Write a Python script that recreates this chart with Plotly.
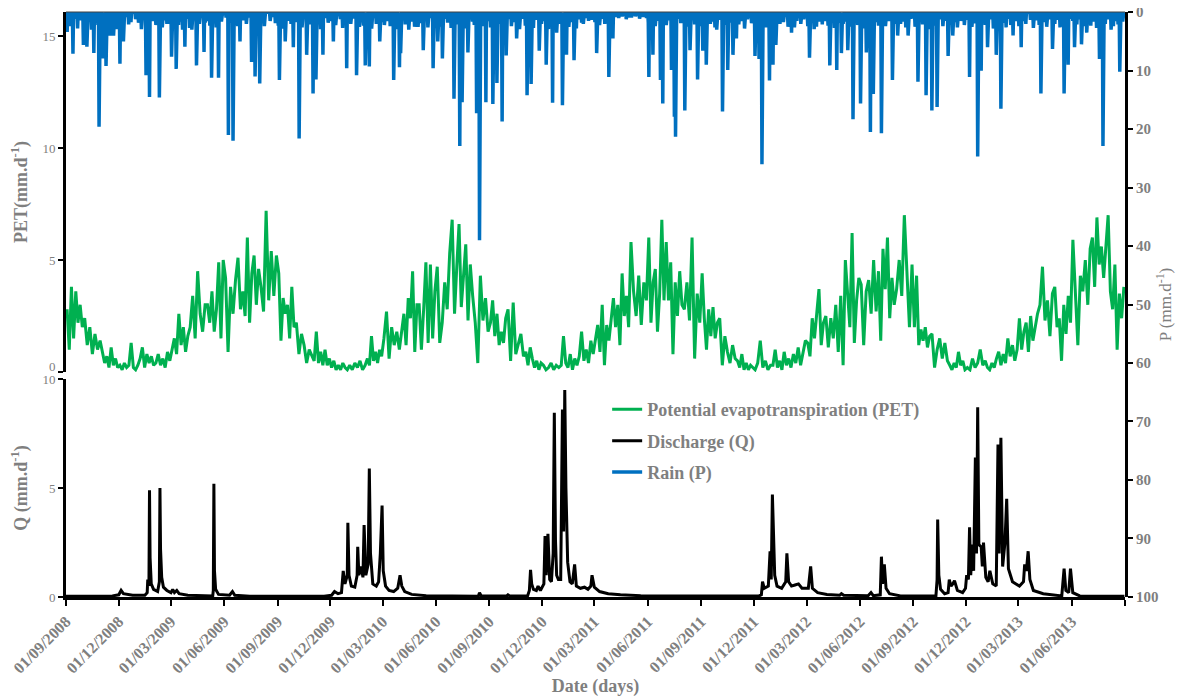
import pandas as pd
import plotly.graph_objects as go

# ---------------- PET (mm/d): readings within each month, in order ----------------
pet_2008 = [  # Sep..Dec 2008
    [2.8, 1.0, 3.8, 1.5, 3.6, 2.2, 3.0, 2.0],
    [2.4, 1.2, 2.0, 0.8, 1.7, 1.0, 1.4],
    [0.9, 0.4, 0.7, 0.2, 1.1, 0.3, 0.6, 0.2],
    [0.3, 0.1, 0.4, 0.2, 0.3, 1.3, 0.2, 0.1],
]
pet_2009 = [
    [0.3, 0.6, 1.1, 0.2, 0.8, 0.4, 0.7, 0.3],
    [0.4, 0.8, 0.3, 0.6, 0.2, 0.9, 0.5],
    [1.0, 1.5, 0.8, 2.6, 1.2, 2.0, 0.9, 1.6],
    [2.0, 3.4, 1.5, 4.5, 2.6, 1.8, 3.0],
    [3.0, 2.2, 3.6, 1.8, 2.8, 4.9, 1.5, 5.0],
    [4.2, 0.9, 3.8, 2.6, 4.1, 5.1, 2.8],
    [3.6, 2.5, 6.0, 2.2, 4.4, 5.2, 3.0, 4.6],
    [3.8, 2.7, 7.2, 3.2, 5.4, 3.4, 5.2],
    [4.4, 1.4, 3.3, 2.6, 3.0, 1.5, 3.8, 2.0],
    [2.2, 0.8, 1.7, 1.2, 0.4, 1.0, 0.7],
    [0.5, 1.8, 0.4, 0.9, 0.3, 1.0, 0.3, 0.6],
    [0.2, 0.5, 0.1, 0.3, 0.1, 0.4, 0.2, 0.1],
]
pet_2010 = [
    [0.3, 0.1, 0.4, 0.2, 0.5, 0.1, 0.3],
    [0.6, 0.3, 1.6, 0.5, 0.9, 0.4, 1.0, 0.7],
    [1.5, 2.7, 0.6, 2.0, 1.2, 1.8, 1.0],
    [1.8, 2.6, 1.2, 3.3, 2.4, 4.5, 0.9, 3.0],
    [3.0, 1.0, 2.8, 4.9, 1.3, 4.8, 1.5, 3.6],
    [4.7, 1.3, 2.2, 4.0, 2.8, 5.3, 6.8],
    [2.6, 4.7, 6.6, 2.9, 4.3, 5.7, 2.3, 4.8],
    [3.4, 2.2, 0.4, 4.3, 2.3, 3.3, 1.8],
    [2.2, 3.2, 1.6, 2.6, 1.2, 1.8, 1.3, 2.4],
    [2.8, 0.5, 3.1, 0.8, 1.2, 1.7, 0.7],
    [0.9, 0.3, 1.1, 0.6, 0.2, 0.5, 0.1, 0.4],
    [0.3, 0.1, 0.2, 0.4, 0.1, 0.3, 0.2],
]
pet_2011 = [
    [0.3, 1.6, 0.4, 0.2, 0.8, 0.1, 0.6, 0.3],
    [0.7, 1.8, 0.5, 1.0, 0.4, 1.4, 0.8],
    [1.5, 2.1, 0.9, 3.0, 0.3, 2.1, 1.4, 2.5],
    [3.3, 2.0, 3.0, 1.2, 4.4, 2.5, 3.4, 2.0],
    [5.8, 3.6, 2.5, 4.3, 2.1, 4.0, 3.2],
    [6.0, 2.2, 4.0, 4.6, 1.8, 3.5, 6.8, 3.2],
    [5.8, 3.2, 4.9, 0.8, 4.0, 2.5, 4.5, 3.0],
    [2.8, 4.0, 2.3, 6.0, 0.6, 3.5, 2.2],
    [4.4, 2.4, 1.0, 2.8, 1.6, 2.9, 1.5, 2.2],
    [2.4, 0.3, 1.6, 0.9, 0.4, 1.2, 0.6],
    [0.5, 0.2, 0.8, 0.1, 0.4, 0.1, 0.3, 0.2],
    [0.1, 0.4, 1.4, 0.2, 0.5, 0.1, 0.3],
]
pet_2012 = [
    [0.3, 1.0, 0.2, 0.5, 0.1, 0.9, 0.3, 0.6],
    [0.2, 0.8, 0.4, 1.1, 0.3, 0.9, 1.4],
    [1.3, 0.7, 2.4, 1.5, 2.6, 3.7, 1.2, 2.2],
    [2.5, 1.1, 2.4, 1.5, 3.0, 0.9, 3.4],
    [0.3, 5.0, 3.6, 2.0, 6.2, 1.3, 3.2, 4.2],
    [3.9, 1.2, 3.6, 4.1, 2.6, 5.0, 2.7],
    [4.5, 1.4, 5.5, 3.7, 6.0, 2.4, 4.2, 3.0],
    [3.7, 5.0, 3.4, 7.0, 4.5, 2.0, 4.8],
    [2.0, 4.3, 1.2, 1.9, 1.4, 2.0, 1.1, 1.6],
    [1.7, 0.2, 1.0, 1.5, 0.6, 1.3, 0.5],
    [0.3, 0.1, 0.4, 0.2, 0.9, 0.3, 0.5, 0.1],
    [0.2, 0.1, 0.6, 0.2, 0.4, 1.0, 0.3],
]
pet_2013 = [  # Jan..Aug 2013
    [0.5, 0.2, 0.1, 0.4, 0.2, 0.6, 0.9, 0.3],
    [0.8, 0.4, 1.5, 0.7, 1.2, 0.5, 1.0],
    [2.4, 1.0, 1.8, 2.2, 0.9, 2.5, 1.4, 2.0],
    [2.6, 3.0, 4.7, 2.3, 3.2, 1.6, 3.5],
    [3.8, 2.0, 2.4, 0.5, 3.0, 1.7, 3.4, 2.2],
    [5.9, 3.6, 1.2, 4.3, 3.6, 5.0, 3.0],
    [5.5, 6.0, 3.8, 6.9, 4.8, 5.6, 4.2, 5.4],
    [7.0, 3.6, 2.8, 4.8, 1.0, 3.5, 2.4, 3.8],
]
pet_first_months = ["2008-09", "2009-01", "2010-01", "2011-01", "2012-01", "2013-01"]

# ---------------- Discharge Q (mm/d) ----------------
q_dates = [
    "2008-09-01", "2008-11-20", "2008-12-01", "2008-12-05", "2008-12-09", "2008-12-25",
    "2009-01-15", "2009-01-19", "2009-01-20", "2009-01-22", "2009-01-23", "2009-01-24",
    "2009-01-26", "2009-01-30", "2009-02-06", "2009-02-09", "2009-02-10", "2009-02-11",
    "2009-02-13", "2009-02-16", "2009-02-22", "2009-03-01", "2009-03-04", "2009-03-07",
    "2009-03-11", "2009-03-15", "2009-03-30", "2009-04-25", "2009-05-12", "2009-05-13",
    "2009-05-14", "2009-05-15", "2009-05-17", "2009-05-22", "2009-06-10", "2009-06-15",
    "2009-06-19", "2009-07-15", "2009-11-20", "2009-12-03", "2009-12-08", "2009-12-14",
    "2009-12-20", "2009-12-23", "2009-12-26", "2009-12-30", "2009-12-31", "2010-01-02",
    "2010-01-06", "2010-01-12", "2010-01-16", "2010-01-17", "2010-01-19", "2010-01-23",
    "2010-01-26", "2010-01-28", "2010-01-31", "2010-02-04", "2010-02-06", "2010-02-08",
    "2010-02-12", "2010-02-18", "2010-02-22", "2010-02-25", "2010-02-28", "2010-03-02",
    "2010-03-06", "2010-03-12", "2010-03-20", "2010-03-27", "2010-03-31", "2010-04-03",
    "2010-04-08", "2010-04-20", "2010-05-15", "2010-08-13", "2010-08-15", "2010-08-18",
    "2010-10-01", "2010-10-03", "2010-10-06", "2010-11-06", "2010-11-09", "2010-11-11",
    "2010-11-13", "2010-11-16", "2010-11-21", "2010-11-24", "2010-11-28", "2010-12-04",
    "2010-12-06", "2010-12-08", "2010-12-11", "2010-12-14", "2010-12-17", "2010-12-20",
    "2010-12-22", "2010-12-24", "2010-12-26", "2010-12-29", "2011-01-02", "2011-01-05",
    "2011-01-07", "2011-01-09", "2011-01-11", "2011-01-14", "2011-01-18", "2011-01-22",
    "2011-01-26", "2011-01-29", "2011-02-05", "2011-02-12", "2011-02-18", "2011-02-23",
    "2011-02-25", "2011-03-01", "2011-03-10", "2011-03-25", "2011-04-15", "2011-05-20",
    "2011-09-01", "2011-12-10", "2011-12-14", "2011-12-16", "2011-12-19", "2011-12-26",
    "2011-12-29", "2011-12-31", "2012-01-02", "2012-01-04", "2012-01-06", "2012-01-10",
    "2012-01-18", "2012-01-25", "2012-01-27", "2012-01-30", "2012-02-04", "2012-02-10",
    "2012-02-16", "2012-02-22", "2012-03-04", "2012-03-08", "2012-03-11", "2012-03-20",
    "2012-04-05", "2012-04-27", "2012-04-30", "2012-05-04", "2012-06-15", "2012-06-20",
    "2012-06-24", "2012-07-06", "2012-07-08", "2012-07-10", "2012-07-13", "2012-07-16",
    "2012-07-22", "2012-08-10", "2012-10-10", "2012-10-12", "2012-10-13", "2012-10-15",
    "2012-10-18", "2012-10-25", "2012-10-31", "2012-11-02", "2012-11-05", "2012-11-08",
    "2012-11-11", "2012-11-16", "2012-11-25", "2012-11-30", "2012-12-02", "2012-12-05",
    "2012-12-07", "2012-12-09", "2012-12-12", "2012-12-14", "2012-12-17", "2012-12-19",
    "2012-12-21", "2012-12-23", "2012-12-27", "2012-12-29", "2012-12-31", "2013-01-04",
    "2013-01-08", "2013-01-11", "2013-01-16", "2013-01-22", "2013-01-25", "2013-01-27",
    "2013-01-30", "2013-02-02", "2013-02-06", "2013-02-09", "2013-02-12", "2013-02-19",
    "2013-03-03", "2013-03-10", "2013-03-12", "2013-03-15", "2013-03-18", "2013-03-21",
    "2013-03-27", "2013-04-13", "2013-04-25", "2013-05-15", "2013-05-19", "2013-05-22",
    "2013-05-27", "2013-05-30", "2013-06-03", "2013-06-15", "2013-08-31",
]
q_values = [
    0.04, 0.05, 0.10, 0.30, 0.15, 0.08,
    0.08, 0.20, 0.80, 0.50, 4.90, 1.80,
    0.60, 0.35, 0.25, 0.70, 5.00, 2.20,
    0.90, 0.45, 0.30, 0.20, 0.35, 0.20,
    0.30, 0.15, 0.08, 0.05, 0.05, 0.30,
    5.20, 1.20, 0.35, 0.12, 0.08, 0.25,
    0.08, 0.04, 0.04, 0.08, 0.25, 0.15,
    0.20, 1.20, 0.60, 1.00, 3.40, 1.00,
    0.50, 0.45, 1.00, 2.30, 1.00, 1.40,
    0.90, 3.30, 1.00, 1.50, 5.90, 2.00,
    0.60, 0.50, 0.70, 2.00, 4.20, 1.20,
    0.50, 0.30, 0.25, 0.40, 1.00, 0.50,
    0.25, 0.12, 0.06, 0.04, 0.20, 0.05,
    0.05, 0.10, 0.05, 0.06, 0.30, 1.25,
    0.60, 0.35, 0.30, 0.50, 0.30, 0.60,
    2.80, 1.00, 2.90, 0.80, 0.70, 2.00,
    8.45, 2.60, 1.00, 0.80, 0.80, 8.60,
    3.00, 9.50, 5.00, 1.60, 0.70, 0.60,
    1.50, 0.50, 0.40, 0.45, 0.35, 0.50,
    1.00, 0.45, 0.25, 0.15, 0.10, 0.06,
    0.04, 0.05, 0.10, 0.70, 0.40, 0.50,
    2.10, 0.80, 4.70, 3.00, 1.00, 0.50,
    0.40, 0.70, 2.00, 0.70, 0.50, 0.55,
    0.60, 0.40, 0.40, 1.40, 0.40, 0.20,
    0.12, 0.08, 0.15, 0.08, 0.06, 0.20,
    0.06, 0.10, 1.85, 0.60, 1.50, 0.40,
    0.15, 0.05, 0.05, 0.80, 3.55, 1.00,
    0.35, 0.15, 0.20, 0.80, 0.50, 0.60,
    0.75, 0.30, 0.20, 0.40, 1.00, 0.80,
    3.20, 1.00, 2.40, 1.20, 6.40, 2.00,
    8.70, 2.40, 2.30, 1.40, 2.50, 0.90,
    0.70, 1.20, 0.60, 0.50, 7.00, 2.00,
    7.30, 1.40, 2.50, 4.50, 1.30, 0.70,
    0.50, 0.70, 1.50, 1.20, 2.10, 0.80,
    0.30, 0.15, 0.10, 0.05, 1.30, 0.30,
    0.20, 1.30, 0.20, 0.05, 0.03,
]

# ---------------- Rain P (mm/d): larger events ----------------
rain_big_dates = [
    "2008-09-03", "2008-09-13", "2008-10-01", "2008-10-07", "2008-10-19", "2008-10-28",
    "2008-11-04", "2008-11-09", "2008-11-16", "2008-11-22", "2008-12-03", "2008-12-09",
    "2009-01-17", "2009-01-23", "2009-02-09", "2009-02-22", "2009-03-02", "2009-03-10",
    "2009-03-25", "2009-04-06", "2009-04-14", "2009-04-27", "2009-05-10", "2009-05-22",
    "2009-06-08", "2009-06-16", "2009-06-28", "2009-07-18", "2009-07-24", "2009-08-01",
    "2009-09-04", "2009-09-14", "2009-09-28", "2009-10-08", "2009-10-21", "2009-11-01",
    "2009-11-06", "2009-11-18", "2009-12-06", "2009-12-29", "2010-01-15", "2010-01-30",
    "2010-02-06", "2010-02-24", "2010-03-20", "2010-03-30", "2010-04-01", "2010-04-15",
    "2010-05-01", "2010-05-10", "2010-05-27", "2010-06-04", "2010-06-12", "2010-07-02",
    "2010-07-12", "2010-07-16", "2010-07-26", "2010-08-10", "2010-08-15", "2010-08-26",
    "2010-09-07", "2010-09-14", "2010-09-23", "2010-09-30", "2010-10-18", "2010-11-05",
    "2010-11-12", "2010-11-26", "2010-12-08", "2010-12-19", "2010-12-26", "2011-01-05",
    "2011-01-12", "2011-01-25", "2011-02-10", "2011-03-05", "2011-03-26", "2011-04-02",
    "2011-06-03", "2011-06-10", "2011-06-23", "2011-06-27", "2011-07-12", "2011-07-17",
    "2011-07-19", "2011-08-04", "2011-08-13", "2011-08-26", "2011-09-04", "2011-09-10",
    "2011-09-28", "2011-10-08", "2011-10-17", "2011-10-26", "2011-11-01", "2011-12-03",
    "2011-12-10", "2011-12-15", "2011-12-28", "2012-01-03", "2012-01-08", "2012-02-04",
    "2012-03-06", "2012-03-18", "2012-04-10", "2012-04-22", "2012-04-30", "2012-05-11",
    "2012-05-20", "2012-06-02", "2012-06-12", "2012-06-19", "2012-06-24", "2012-07-08",
    "2012-07-27", "2012-08-05", "2012-08-23", "2012-09-09", "2012-09-23", "2012-10-03",
    "2012-10-12", "2012-10-31", "2012-11-08", "2012-11-23", "2012-12-07", "2012-12-21",
    "2012-12-27", "2013-01-07", "2013-01-22", "2013-01-30", "2013-02-20", "2013-03-06",
    "2013-04-09", "2013-04-29", "2013-05-19", "2013-05-26", "2013-06-06", "2013-06-18",
    "2013-06-27", "2013-07-19", "2013-07-25", "2013-08-08", "2013-08-23",
]
rain_big_mm = [
    3.4, 7.1, 5.6, 5.9, 7.0, 19.6,
    7.9, 9.2, 4.0, 4.0, 8.8, 5.0,
    10.8, 14.5, 14.6, 2.0, 7.6, 9.7,
    5.9, 3.0, 9.1, 6.8, 11.2, 11.2,
    21.0, 22.0, 5.0, 8.5, 11.0, 12.2,
    11.6, 5.0, 6.0, 21.6, 7.3, 13.9,
    11.5, 7.3, 5.0, 9.6, 10.8, 9.1,
    9.3, 5.0, 11.6, 9.4, 7.0, 3.0,
    2.5, 6.5, 9.6, 5.0, 7.9, 14.8,
    22.9, 15.4, 6.9, 17.3, 39.0, 15.4,
    15.7, 12.1, 18.7, 7.4, 4.5, 14.2,
    12.3, 6.6, 9.0, 15.5, 3.5, 15.9,
    7.3, 8.2, 2.0, 7.0, 11.1, 4.5,
    11.1, 7.3, 11.6, 15.6, 9.9, 17.9,
    21.3, 16.8, 6.5, 11.5, 6.6, 9.0,
    3.0, 17.0, 9.9, 7.3, 4.5, 7.5,
    8.0, 26.0, 11.7, 9.0, 5.6, 3.5,
    7.8, 2.5, 9.1, 9.9, 7.0, 6.5,
    18.3, 15.6, 6.9, 20.5, 14.0, 20.7,
    11.6, 4.0, 4.0, 11.9, 14.2, 16.8,
    16.2, 7.5, 4.0, 1.5, 11.1, 24.7,
    10.0, 6.0, 7.3, 16.5, 4.0, 6.0,
    13.9, 6.3, 13.9, 9.0, 6.0, 5.5,
    3.5, 8.0, 22.9, 3.0, 10.2,
]

# ---------------- Rain P: small daily events, month by month (Sep 2008 .. Aug 2013) ----------------
rain_small_days = [
    [5, 9, 17, 21, 26], [3, 11, 15, 23, 26], [2, 7, 13, 19, 27], [5, 12, 18, 22, 30],
    [4, 9, 13, 21, 28], [3, 6, 14, 18, 26], [6, 14, 18, 21, 29], [2, 9, 19, 23, 29],
    [3, 7, 14, 18, 27], [4, 11, 20, 24, 30], [3, 9, 13, 21, 28], [5, 9, 19, 24, 28],
    [2, 8, 11, 18, 24], [3, 13, 16, 26, 30], [3, 10, 14, 22, 27], [2, 10, 18, 22, 25],
    [5, 9, 20, 24, 27], [2, 10, 14, 18, 27], [4, 9, 14, 24, 27], [5, 9, 20, 25, 28],
    [5, 14, 18, 22, 30], [2, 8, 17, 21, 27], [5, 8, 20, 22, 29], [3, 6, 19, 22, 30],
    [3, 11, 17, 19, 27], [4, 9, 13, 23, 28], [2, 9, 16, 20, 30], [3, 12, 15, 23, 30],
    [2, 8, 16, 20, 29], [4, 7, 15, 19, 24], [2, 10, 15, 19, 29], [6, 12, 18, 25, 29],
    [4, 11, 18, 24, 30], [2, 6, 14, 18, 30], [3, 7, 14, 24, 28], [2, 8, 17, 21, 30],
    [2, 14, 17, 22, 25], [3, 12, 21, 24, 30], [5, 10, 15, 20, 27], [6, 12, 19, 22, 30],
    [5, 12, 15, 21, 29], [2, 9, 13, 20, 25], [3, 10, 14, 24, 28], [3, 7, 15, 18, 27],
    [3, 7, 15, 24, 28], [5, 9, 15, 21, 29], [3, 12, 15, 21, 31], [2, 10, 15, 19, 28],
    [4, 13, 17, 20, 28], [6, 9, 17, 22, 26], [3, 12, 16, 20, 28], [3, 11, 14, 25, 30],
    [3, 12, 17, 20, 27], [4, 8, 13, 16, 25], [2, 10, 14, 22, 27], [3, 6, 14, 19, 24],
    [3, 8, 12, 22, 30], [3, 10, 13, 22, 30], [4, 9, 14, 21, 29], [3, 12, 16, 20, 28],
]
rain_small_mm = [
    [1.6, 2.4, 1.1, 2.8, 1.4], [2.0, 1.2, 3.0, 0.9, 2.2], [1.3, 2.6, 1.8, 1.0, 2.9], [2.5, 0.8, 2.1, 1.7, 1.2],
    [1.8, 2.9, 1.2, 2.2, 1.5], [2.2, 1.0, 2.6, 1.4, 2.0], [1.2, 2.2, 1.6, 3.0, 1.1], [2.7, 1.4, 2.0, 0.9, 1.8],
    [1.5, 2.3, 1.0, 2.6, 1.6], [0.9, 1.8, 1.3, 2.4, 1.0], [1.4, 2.0, 0.9, 1.6, 2.3], [1.1, 2.4, 1.5, 0.8, 1.9],
    [2.3, 1.2, 2.8, 1.5, 2.0], [1.7, 2.6, 1.1, 2.1, 1.4], [2.4, 1.3, 2.9, 1.0, 1.8], [1.5, 2.2, 1.2, 2.7, 1.6],
    [2.0, 1.1, 2.5, 1.6, 2.3], [1.4, 2.8, 1.0, 2.0, 1.7], [2.2, 1.5, 2.4, 1.2, 2.9], [1.0, 2.1, 1.6, 2.5, 1.3],
    [1.9, 1.2, 2.6, 1.0, 2.2], [1.3, 2.5, 1.1, 1.8, 2.7], [2.1, 1.4, 2.0, 2.8, 1.2], [1.6, 2.2, 1.0, 2.4, 1.5],
    [2.6, 1.1, 2.0, 1.5, 2.3], [1.2, 2.4, 1.7, 2.9, 1.1], [2.3, 1.6, 2.7, 1.3, 2.0], [1.5, 2.9, 1.2, 2.2, 1.8],
    [2.0, 1.3, 2.5, 1.7, 2.8], [1.2, 1.8, 1.0, 1.5, 1.3], [1.7, 2.2, 1.1, 2.0, 1.4], [0.8, 1.0, 0.7, 1.2, 0.9],
    [0.9, 0.7, 1.1, 0.8, 1.0], [1.8, 1.2, 2.4, 1.5, 2.0], [2.2, 1.4, 2.7, 1.1, 1.9], [1.6, 2.5, 1.3, 2.1, 1.4],
    [2.4, 1.1, 2.0, 1.6, 2.6], [1.3, 2.2, 1.8, 1.0, 2.5], [2.1, 1.5, 2.8, 1.2, 1.9], [1.6, 2.4, 1.1, 2.6, 1.3],
    [2.2, 1.4, 2.0, 1.7, 2.5], [1.1, 2.6, 1.5, 2.0, 1.2], [2.4, 1.3, 2.9, 1.6, 2.1], [1.5, 2.3, 1.0, 2.7, 1.8],
    [2.0, 1.6, 2.5, 1.2, 2.2], [1.4, 2.8, 1.3, 2.1, 1.7], [2.3, 1.1, 2.4, 1.5, 2.0], [1.2, 2.0, 1.6, 2.6, 1.1],
    [2.5, 1.4, 2.1, 1.8, 2.9], [1.6, 2.3, 1.2, 2.4, 1.5], [2.1, 1.7, 2.6, 1.0, 2.2], [1.3, 2.5, 1.9, 2.3, 1.4],
    [2.2, 1.2, 2.8, 1.6, 2.0], [1.8, 2.6, 1.1, 2.2, 1.5], [2.4, 1.5, 2.0, 1.3, 2.7], [1.4, 2.2, 1.7, 2.5, 1.2],
    [2.0, 1.3, 2.6, 1.8, 1.1], [1.5, 2.1, 1.2, 2.4, 1.7], [2.3, 1.6, 2.7, 1.2, 2.0], [1.2, 2.4, 1.5, 2.1, 1.6],
]

x_tick_dates = [
    "2008-09-01", "2008-12-01", "2009-03-01", "2009-06-01", "2009-09-01", "2009-12-01",
    "2010-03-01", "2010-06-01", "2010-09-01", "2010-12-01", "2011-03-01", "2011-06-01",
    "2011-09-01", "2011-12-01", "2012-03-01", "2012-06-01", "2012-09-01", "2012-12-01",
    "2013-03-01", "2013-06-01", "2013-09-01",
]
x_tick_labels = [
    "01/09/2008", "01/12/2008", "01/03/2009", "01/06/2009", "01/09/2009", "01/12/2009",
    "01/03/2010", "01/06/2010", "01/09/2010", "01/12/2010", "01/03/2011", "01/06/2011",
    "01/09/2011", "01/12/2011", "01/03/2012", "01/06/2012", "01/09/2012", "01/12/2012",
    "01/03/2013", "01/06/2013", "",
]
pet_ticks = [0, 5, 10, 15]
q_ticks = [0, 5, 10]
p_ticks = [0, 10, 20, 30, 40, 50, 60, 70, 80, 90, 100]

# ---------------- build series ----------------
pet_x, pet_y = [], []
for first, blocks in zip(pet_first_months, [pet_2008, pet_2009, pet_2010, pet_2011, pet_2012, pet_2013]):
    start = pd.Period(first, freq="M")
    for k, vals in enumerate(blocks):
        p = start + k
        t0 = p.start_time
        nd = p.days_in_month
        for i, v in enumerate(vals):
            pet_x.append(t0 + pd.Timedelta(hours=24 * (i + 0.5) * nd / len(vals)))
            pet_y.append(v)

days = pd.date_range("2008-09-01", "2013-08-31", freq="D")
rain = pd.Series(0.0, index=days)
for d, v in zip(rain_big_dates, rain_big_mm):
    ts = pd.Timestamp(d)
    rain[ts] = max(rain[ts], v)
months = pd.period_range("2008-09", "2013-08", freq="M")
for p, dl, vl in zip(months, rain_small_days, rain_small_mm):
    for d, v in zip(dl, vl):
        ts = pd.Timestamp(year=p.year, month=p.month, day=d)
        rain[ts] = max(rain[ts], v)

FONT = "Liberation Serif, Times New Roman, serif"
GRAY = "#7f7f7f"

fig = go.Figure()
fig.add_trace(go.Scatter(x=rain.index, y=rain.values, mode="lines", name="Rain (P)",
                         line=dict(color="#0070c0", width=3.5), xaxis="x", yaxis="y2",
                         legendgroup="c", legendrank=3))
fig.add_trace(go.Scatter(x=pet_x, y=pet_y, mode="lines", name="Potential evapotranspiration (PET)",
                         line=dict(color="#00b050", width=3), xaxis="x", yaxis="y",
                         legendgroup="a", legendrank=1))
fig.add_trace(go.Scatter(x=pd.to_datetime(q_dates), y=q_values, mode="lines", name="Discharge (Q)",
                         line=dict(color="#000000", width=3), xaxis="x", yaxis="y3",
                         legendgroup="b", legendrank=2))

tickfont_bold = dict(family=FONT, size=16, color=GRAY, weight="bold")
tickfont_reg = dict(family=FONT, size=13, color=GRAY)
title_bold = dict(family=FONT, size=18, color=GRAY, weight="bold")

# page body has an 8px margin: size the figure so the plot lands where the reference has it
fig.update_layout(
    template="none",
    width=1176, height=689,
    margin=dict(l=58, r=59, t=4, b=100),
    paper_bgcolor="white", plot_bgcolor="rgba(0,0,0,0)",
    showlegend=True,
    legend=dict(x=0.511, y=0.352, xanchor="left", yanchor="top", bgcolor="rgba(0,0,0,0)",
                font=dict(family=FONT, size=18, color=GRAY, weight="bold"),
                tracegroupgap=5, traceorder="grouped"),
    xaxis=dict(type="date", range=["2008-09-01", "2013-09-01"], domain=[0, 1], anchor="y3",
               showline=True, linecolor="black", linewidth=3, showgrid=False, zeroline=False,
               ticks="outside", ticklen=6, tickwidth=2, tickcolor="black",
               tickmode="array", tickvals=pd.to_datetime(x_tick_dates), ticktext=x_tick_labels,
               tickangle=-45, tickfont=tickfont_bold, automargin=False,
               title=dict(text="Date (days)", font=title_bold, standoff=4)),
    yaxis=dict(domain=[0.3846, 1], range=[0, 16.07], anchor="x",
               showline=True, linecolor="black", linewidth=3, showgrid=False, zeroline=False,
               ticks="outside", ticklen=5, tickwidth=2, tickcolor="black",
               tickmode="array", tickvals=pet_ticks, ticktext=["", "5", "10", "15"],
               tickfont=tickfont_reg, automargin=False,
               title=dict(text="PET(mm.d<sup>-1</sup>)", font=title_bold, standoff=13)),
    yaxis2=dict(domain=[0, 1], range=[100.03, -0.03], anchor="x", side="right",
                showline=True, linecolor="black", linewidth=3, showgrid=False, zeroline=False,
                ticks="outside", ticklen=5, tickwidth=2, tickcolor="black",
                tickmode="array", tickvals=p_ticks, ticklabeloverflow="allow",
                tickfont=dict(family=FONT, size=15, color=GRAY, weight="bold"),
                automargin=False,
                title=dict(text="P (mm.d<sup>-1</sup>)", font=dict(family=FONT, size=17, color=GRAY), standoff=2)),
    yaxis3=dict(domain=[0, 0.3726], range=[0, 10], anchor="x",
                showline=True, linecolor="black", linewidth=3, showgrid=False, zeroline=False,
                ticks="outside", ticklen=5, tickwidth=2, tickcolor="black",
                tickmode="array", tickvals=q_ticks, tickfont=tickfont_reg, automargin=False,
                title=dict(text="Q (mm.d<sup>-1</sup>)", font=title_bold, standoff=13)),
    shapes=[dict(type="line", xref="paper", yref="paper", x0=0, x1=1, y0=1, y1=1,
                 line=dict(color="#404040", width=1))],
    annotations=[dict(text="0", xref="paper", yref="paper", x=0, y=(589 - 358) / 585,
                      xanchor="right", yanchor="middle", xshift=-8, showarrow=False,
                      font=tickfont_reg)],
)

fig.write_html("out.html")
